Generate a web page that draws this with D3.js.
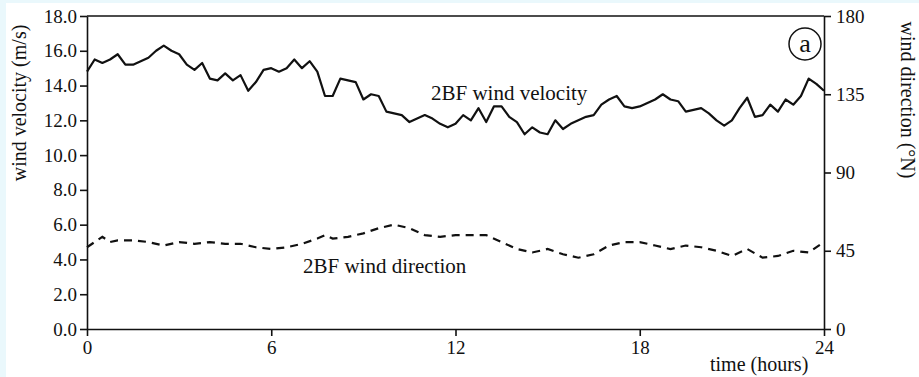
<!DOCTYPE html>
<html><head><meta charset="utf-8">
<script src="https://cdn.jsdelivr.net/npm/d3@7"></script>
<style>
html,body{margin:0;padding:0;background:#eaf8fc;}
svg{display:block;}
text{font-family:"Liberation Serif","Times New Roman",serif;fill:#111;}
</style></head>
<body>
<svg id="c" width="919" height="377"></svg>
<script>
const hours = d3.range(0, 24.01, 0.25);
const velocity = [14.8,15.5,15.3,15.5,15.8,15.2,15.2,15.4,15.6,16.0,16.3,16.0,15.8,15.2,14.9,15.3,
14.4,14.3,14.7,14.3,14.6,13.7,14.2,14.9,15.0,14.8,15.0,15.5,15.0,15.4,14.8,13.4,
13.4,14.4,14.3,14.2,13.2,13.5,13.4,12.5,12.4,12.3,11.9,12.1,12.3,12.1,11.8,11.6,
11.8,12.3,12.0,12.7,11.9,12.8,12.8,12.2,11.9,11.2,11.6,11.3,11.2,12.0,11.5,11.8,
12.0,12.2,12.3,12.9,13.2,13.4,12.8,12.7,12.8,13.0,13.2,13.5,13.2,13.1,12.5,12.6,
12.7,12.4,12.0,11.7,12.0,12.7,13.3,12.2,12.3,12.9,12.5,13.2,12.9,13.4,14.4,14.1,13.7];
const dirHours = [0,0.5,0.75,1,1.5,2,2.5,3,3.5,4,4.5,5,5.5,6,6.5,7,7.5,7.75,8,8.5,9,9.5,10,10.5,11,11.5,12,12.5,13,13.5,14,14.5,15,15.5,16,16.5,17,17.5,18,18.5,19,19.5,20,20.5,21,21.5,22,22.5,23,23.5,24];
const direction = [47,53,50,51,51,50,48,50,49,50,49,49,47,46,47,49,52,54,52,53,55,58,60,58,54,53,54,54,54,50,46,44,46,43,41,43,48,50,50,48,46,48,47,45,42,46,41,42,45,44,50];
const leftTicks = [0,2,4,6,8,10,12,14,16,18];
const rightTicks = [0,45,90,135,180];
const xTicks = [0,6,12,18,24];

const svg = d3.select("#c");
svg.append("rect").attr("x",6).attr("y",3).attr("width",913).attr("height",374).attr("fill","#fff");

const x = d3.scaleLinear().domain([0,24]).range([87,824]);
const yL = d3.scaleLinear().domain([0,18]).range([329,16]);
const yR = d3.scaleLinear().domain([0,180]).range([329,16]);

function styleAxis(g){
  g.selectAll("path,line").attr("stroke","#111").attr("stroke-width",1.6);
  g.selectAll("text").style("font-family",'"Liberation Serif",serif').style("font-size","19px").attr("fill","#111");
}
// top border
svg.append("line").attr("x1",87).attr("x2",824).attr("y1",16).attr("y2",16).attr("stroke","#111").attr("stroke-width",1.6);

const gL = svg.append("g").attr("transform","translate(87,0)")
  .call(d3.axisLeft(yL).tickValues(leftTicks).tickFormat(d3.format(".1f")).tickSize(7).tickSizeOuter(0).tickPadding(3));
styleAxis(gL);
const gR = svg.append("g").attr("transform","translate(824,0)")
  .call(d3.axisRight(yR).tickValues(rightTicks).tickSize(7).tickSizeOuter(0).tickPadding(5));
styleAxis(gR);
const gX = svg.append("g").attr("transform","translate(0,329)")
  .call(d3.axisBottom(x).tickValues(xTicks).tickSize(7).tickSizeOuter(0).tickPadding(5));
styleAxis(gX);

// lines
const lv = d3.line().x((d,i)=>x(hours[i])).y(d=>yL(d));
svg.append("path").datum(velocity).attr("d",lv).attr("fill","none").attr("stroke","#111").attr("stroke-width",2.2).attr("stroke-linejoin","round");
const ld = d3.line().x((d,i)=>x(dirHours[i])).y(d=>yR(d));
svg.append("path").datum(direction).attr("d",ld).attr("fill","none").attr("stroke","#111").attr("stroke-width",2.2).attr("stroke-dasharray","8,6");

// labels
svg.append("text").attr("x",431).attr("y",100).style("font-size","21px").text("2BF wind velocity");
svg.append("text").attr("x",303).attr("y",273).style("font-size","21px").text("2BF wind direction");
svg.append("text").attr("x",710).attr("y",371).style("font-size","20px").text("time (hours)");
svg.append("text").attr("transform","translate(26,103) rotate(-90)").attr("text-anchor","middle").style("font-size","20px").text("wind velocity (m/s)");
svg.append("text").attr("transform","translate(901,100) rotate(90)").attr("text-anchor","middle").style("font-size","20px").text("wind direction (°N)");
// (a)
svg.append("circle").attr("cx",805).attr("cy",44).attr("r",16).attr("fill","none").attr("stroke","#111").attr("stroke-width",1.5);
svg.append("text").attr("x",805).attr("y",52).attr("text-anchor","middle").style("font-size","26px").text("a");
</script>
</body></html>
